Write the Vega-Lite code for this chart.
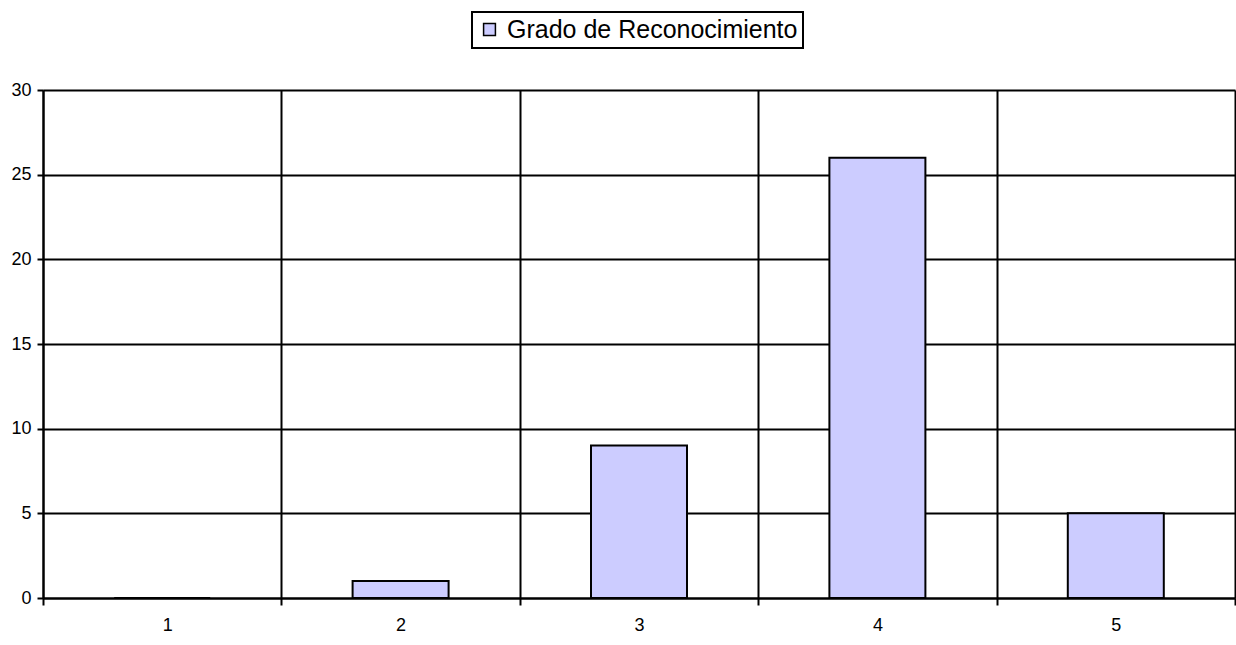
{
  "$schema": "https://vega.github.io/schema/vega-lite/v6.json",
  "width": 1192,
  "height": 508,
  "autosize": {"type": "none"},
  "padding": {"left": 43, "top": 90, "right": 1, "bottom": 47},
  "background": "white",
  "config": {
    "view": {"stroke": null},
    "font": "Liberation Sans",
    "axis": {"labelFont": "Liberation Sans", "labelColor": "black"}
  },
  "data": {
    "values": [
      {"grado": 1, "count": 0},
      {"grado": 2, "count": 1},
      {"grado": 3, "count": 9},
      {"grado": 4, "count": 26},
      {"grado": 5, "count": 5}
    ]
  },
  "mark": {"type": "bar", "width": 96, "stroke": "black", "strokeWidth": 2, "opacity": 1},
  "encoding": {
    "x": {
      "field": "grado",
      "type": "quantitative",
      "scale": {"domain": [0.5, 5.5], "nice": false, "zero": false, "padding": 0},
      "axis": {
        "title": null,
        "values": [0.5, 1.5, 2.5, 3.5, 4.5, 5.5],
        "labelExpr": "datum.value < 5 ? format(datum.value + 0.5, 'd') : ''",
        "labelOffset": 119.2,
        "labelFontSize": 18,
        "labelPadding": 11,
        "tickSize": 7,
        "tickColor": "black",
        "tickWidth": 2,
        "domainColor": "black",
        "domainWidth": 2,
        "grid": true,
        "gridColor": "black",
        "gridOpacity": 1,
        "gridWidth": 2
      }
    },
    "y": {
      "field": "count",
      "type": "quantitative",
      "scale": {"domain": [0, 30], "nice": false},
      "axis": {
        "title": null,
        "values": [0, 5, 10, 15, 20, 25, 30],
        "labelFontSize": 18,
        "labelPadding": 6,
        "tickSize": 6,
        "tickColor": "black",
        "tickWidth": 2,
        "domainColor": "black",
        "domainWidth": 2,
        "grid": true,
        "gridColor": "black",
        "gridOpacity": 1,
        "gridWidth": 2
      }
    },
    "color": {
      "datum": "Grado de Reconocimiento",
      "scale": {"range": ["#ccccff"]},
      "legend": {
        "title": null,
        "orient": "none",
        "legendX": 429,
        "legendY": -78,
        "labelFont": "Liberation Sans",
        "labelFontSize": 25,
        "labelLimit": 1000,
        "labelColor": "black",
        "labelOffset": 5,
        "symbolType": "square",
        "symbolSize": 140,
        "symbolStrokeColor": "black",
        "symbolStrokeWidth": 1.5,
        "symbolOpacity": 1,
        "padding": 5,
        "strokeColor": "black",
        "fillColor": "white",
        "encode": {"legend": {"update": {"strokeWidth": {"value": 2}}}}
      }
    }
  }
}
